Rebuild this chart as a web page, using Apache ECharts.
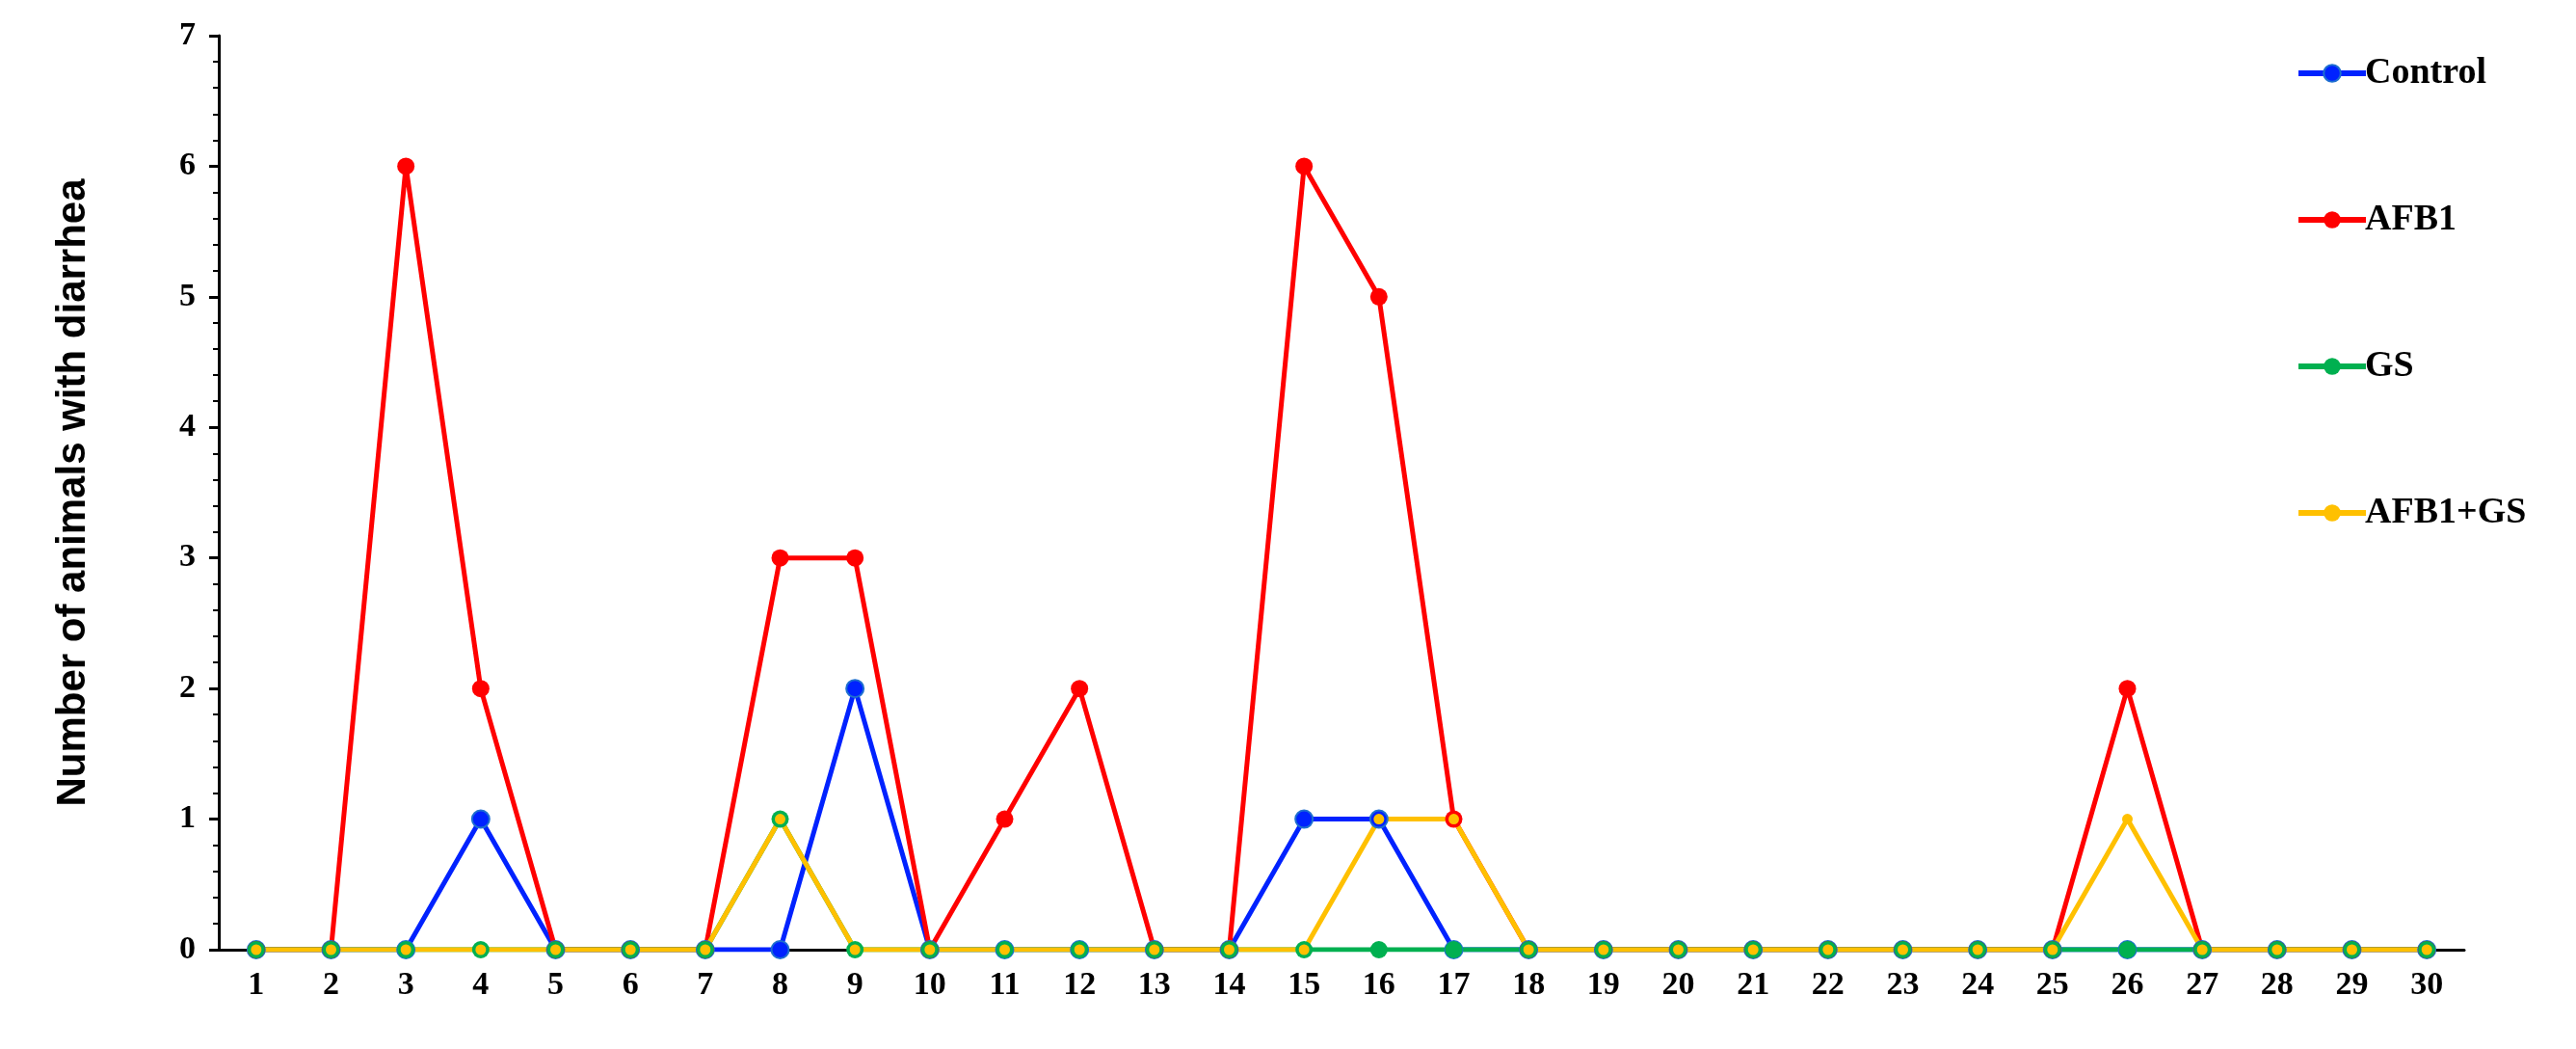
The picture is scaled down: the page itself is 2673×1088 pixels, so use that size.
<!DOCTYPE html>
<html>
<head>
<meta charset="utf-8">
<script src="https://cdn.jsdelivr.net/npm/echarts@6/dist/echarts.min.js"></script>
<style>html,body{margin:0;padding:0;background:#fff}#chart{width:2673px;height:1088px}</style>
</head>
<body>
<div id="chart"></div>
<script>
// days on the x axis
const days = Array.from({ length: 30 }, (_, i) => String(i + 1));
const control = [0,0,0,1,0,0,0,0,2,0,0,0,0,0,1,1,0,0,0,0,0,0,0,0,0,0,0,0,0,0];
const afb1    = [0,0,6,2,0,0,0,3,3,0,1,2,0,0,6,5,1,0,0,0,0,0,0,0,0,2,0,0,0,0];
const gs      = [0,0,0,0,0,0,0,1,0,0,0,0,0,0,0,0,0,0,0,0,0,0,0,0,0,0,0,0,0,0];
const afb1gs  = [0,0,0,0,0,0,0,1,0,0,0,0,0,0,0,1,1,0,0,0,0,0,0,0,0,1,0,0,0,0];

let chart = echarts.init(document.getElementById('chart'));

const mk = (name, data, color, size, border) => ({
    name: name,
    type: 'line',
    data: data,
    symbol: 'circle',
    symbolSize: size,
    lineStyle: { color: color, width: 5 },
    itemStyle: { color: color, borderColor: border || color, borderWidth: border ? 2 : 0 },
});

let option = {
    animation: false,
    grid: { left: 227, right: 116, top: 37, bottom: 103 },
    legend: {
        orient: 'vertical',
        left: 2377,
        top: 52,
        itemWidth: 70,
        itemHeight: 22,
        itemGap: 114,
        lineStyle: { width: 6 },
        textStyle: { fontFamily: 'Liberation Serif', fontWeight: 'bold', fontSize: 38, color: '#000', padding: [0, 0, 0, -6] },
        data: ['Control', 'AFB1', 'GS', 'AFB1+GS'],
    },
    xAxis: {
        type: 'category',
        data: days,
        boundaryGap: true,
        axisLine: { lineStyle: { color: '#000', width: 3 } },
        axisTick: { show: false },
        axisLabel: { fontFamily: 'Liberation Serif', fontWeight: 'bold', fontSize: 34, color: '#000', margin: 20 },
    },
    yAxis: {
        type: 'value',
        min: 0, max: 7, interval: 1,
        name: 'Number of animals with diarrhea',
        nameLocation: 'middle',
        nameGap: 130,
        nameTextStyle: { fontFamily: 'Liberation Sans', fontWeight: 'bold', fontSize: 42, color: '#000' },
        axisLine: { show: true, lineStyle: { color: '#000', width: 3 } },
        axisTick: { show: true, length: 10, lineStyle: { color: '#000', width: 3 } },
        minorTick: { show: true, splitNumber: 5, length: 6, lineStyle: { color: '#000', width: 2 } },
        splitLine: { show: false },
        axisLabel: { fontFamily: 'Liberation Serif', fontWeight: 'bold', fontSize: 34, color: '#000', margin: 24 },
    },
    series: [
        mk('Control', control, '#0022ff', 18, '#1e6fd0'),
        mk('AFB1', afb1, '#ff0000', 18),
        mk('GS', gs, '#00b050', 18),
        mk('AFB1+GS', afb1gs, '#ffc000', 11),
    ],
};

option && chart.setOption(option);
</script>
</body>
</html>
